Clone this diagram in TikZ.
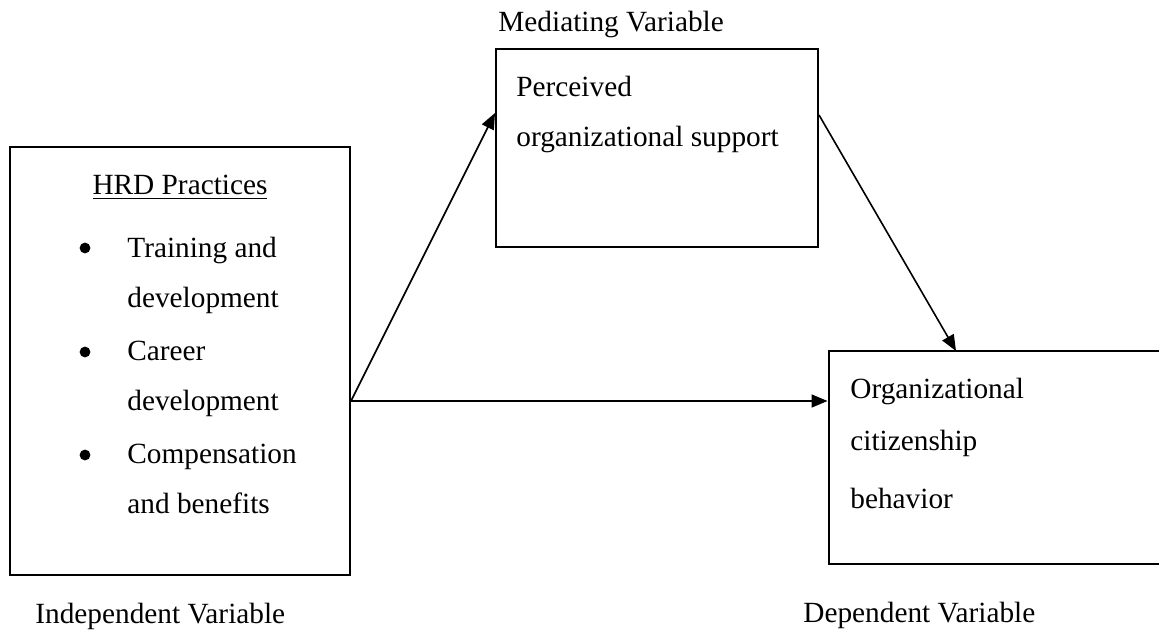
\documentclass[tikz,border=0pt]{standalone}
\usepackage{fontspec}
\setmainfont{Liberation Serif}
\usetikzlibrary{arrows.meta}
\tikzset{
  box/.style={draw, line width=1pt, inner sep=0pt, rectangle},
  txt/.style={anchor=base west, inner sep=0pt, font=\fontsize{14.65}{17}\selectfont},
  bul/.style={circle, fill, inner sep=0pt, minimum size=5.4pt},
  conn/.style={line width=0.8pt, -{Triangle[length=8pt,width=6.5pt]}}
}
\begin{document}
\begin{tikzpicture}[x=0.5pt,y=-0.5pt]
\clip (0,0) rectangle (1159,630);
\fill[white] (0,0) rectangle (1159,630);
% boxes
\node[box, minimum width=170pt, minimum height=214pt] (hrd) at (180,361) {};
\node[box, minimum width=161pt, minimum height=99pt] (med) at (657,148) {};
\node[box, minimum width=171pt, minimum height=106.5pt] (dep) at (999.5,457.5) {};
% labels
\node[txt] (medlab) at (498,32) {Mediating Variable};
\node[txt] (indlab) at (35,623) {Independent Variable};
\node[txt] (deplab) at (803,622) {Dependent Variable};
% HRD box text
\node[txt, anchor=base] (hrdtitle) at (180,195) {\underline{HRD Practices}};
\node[bul] (b1) at (85,248) {};
\node[txt] (t1) at (127,257) {Training and};
\node[txt] (t1b) at (127,307) {development};
\node[bul] (b2) at (85,352) {};
\node[txt] (t2) at (127,360) {Career};
\node[txt] (t2b) at (127,410) {development};
\node[bul] (b3) at (85,455) {};
\node[txt] (t3) at (127,463) {Compensation};
\node[txt] (t3b) at (127,513) {and benefits};
% mediating text
\node[txt] (m1) at (516,97) {Perceived};
\node[txt] (m2) at (516,147) {organizational support};
% dependent text
\node[txt] (d1) at (850,398) {Organizational};
\node[txt] (d2) at (850,450) {citizenship};
\node[txt] (d3) at (850,508) {behavior};
% connector points
\coordinate (src) at (hrd.east |- 0,401);
\coordinate (medin) at (med.west |- 0,113);
\coordinate (medout) at (med.east |- 0,115);
\coordinate (depin) at (956,351);
\coordinate (depleft) at (dep.west |- 0,401);
% connectors
\draw[conn] (src) -- (medin);
\draw[conn] (medout) -- (depin);
\draw[conn] (src) -- (depleft);
\end{tikzpicture}
\end{document}
